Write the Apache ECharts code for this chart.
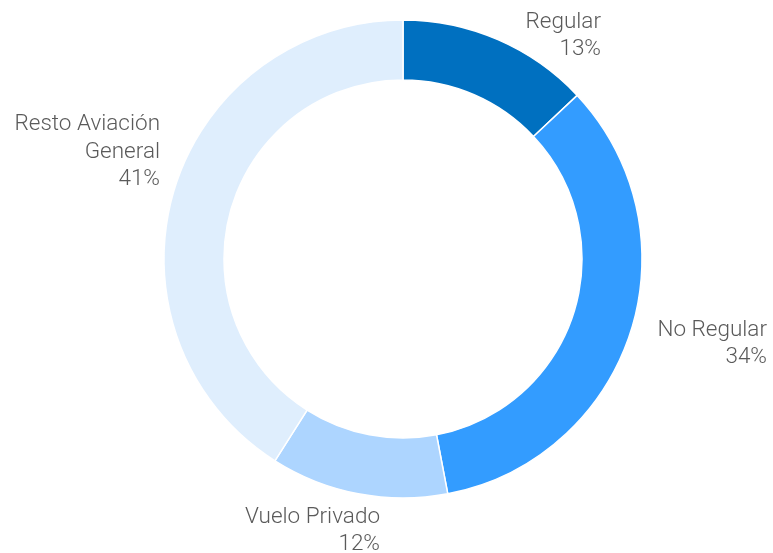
<!DOCTYPE html>
<html>
<head>
<meta charset="utf-8">
<script src="https://cdn.jsdelivr.net/npm/echarts@6/dist/echarts.min.js"></script>
<style>
  html, body { margin: 0; padding: 0; background: #fff; }
  #chart { width: 773px; height: 553px; }
</style>
</head>
<body>
<div id="chart"></div>
<script>
// datos del gráfico
const categorias = ['Regular', 'No Regular', 'Vuelo Privado', 'Resto Aviación\nGeneral'];
const porcentajes = [13, 34, 12, 41];
const colores = ['#0070C0', '#339CFF', '#ADD5FF', '#DFEEFD'];

// posición de cada etiqueta (borde derecho, centro vertical)
const posEtiquetas = [
    [601, 36],
    [767, 344],
    [380, 531],
    [160, 152]
];

const chart = echarts.init(document.getElementById('chart'));

const option = {
    animation: false,
    series: [
        {
            type: 'pie',
            center: [403, 259],
            radius: [179, 239],
            startAngle: 90,
            clockwise: true,
            label: {
                show: true,
                position: 'outside',
                formatter: '{b}\n{d}%',
                fontFamily: 'Roboto',
                fontWeight: 300,
                fontSize: 22.5,
                lineHeight: 27.5,
                color: '#5a5a5a',
                align: 'right',
                overflow: 'none'
            },
            labelLine: { show: false },
            labelLayout: (params) => {
                const p = posEtiquetas[params.dataIndex];
                return {
                    x: p[0],
                    y: p[1],
                    align: 'right',
                    verticalAlign: 'middle'
                };
            },
            itemStyle: {
                borderColor: '#fff',
                borderWidth: 1.5
            },
            emphasis: { disabled: true },
            data: categorias.map((nombre, i) => ({
                name: nombre,
                value: porcentajes[i],
                itemStyle: { color: colores[i] }
            }))
        }
    ]
};

chart.setOption(option);
</script>
</body>
</html>
